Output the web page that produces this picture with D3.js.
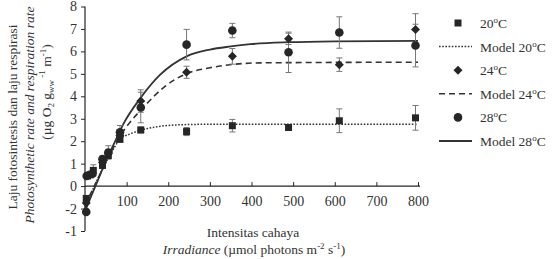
<!DOCTYPE html>
<html><head><meta charset="utf-8">
<script src="https://cdn.jsdelivr.net/npm/d3@7/dist/d3.min.js"></script>
<style>body{margin:0;background:#fff}svg{display:block}text{font-family:"Liberation Serif","Times New Roman",serif;fill:#333}</style>
</head><body><svg id="c" width="554" height="259"></svg>
<script>
// ---- data (y in axis position units) ----
const xTicks = [100,200,300,400,500,600,700,800];
const yTickValues = [8,7,6,5,4,3,2,1,0,-1,-2];
const yTickLabels = ["8","7","6","5","4","3","2","1","0","-2","-1"];

// observed points: [irradiance, rate, error]
const obs20 = [[3,-0.55,0],[6,0.45,0],[12,0.5,0],[20,0.7,0.25],[42,0.92,0.1],[56,1.36,0.1],[84,2.08,0.1],[134,2.5,0.13],[244,2.43,0.18],[354,2.69,0.28],[489,2.61,0.1],[611,2.91,0.53],[794,3.04,0.55]];
const obs24 = [[3,-0.75,0],[8,0.5,0],[14,0.55,0],[42,1.05,0.12],[56,1.45,0.15],[84,2.25,0.2],[134,3.79,0.5],[244,5.07,0.27],[354,5.78,0.35],[489,6.56,0.25],[611,5.41,0.3],[794,6.98,0.7]];
const obs28 = [[3,-1.15,0],[4,0.45,0],[18,0.55,0.1],[42,1.2,0.15],[56,1.5,0.3],[84,2.4,0.3],[134,3.5,0.68],[244,6.3,0.68],[354,6.93,0.32],[489,5.96,0.9],[611,6.84,0.7],[794,6.26,0.95]];

// model curves
const model20 = [[0,-0.95],[25,0.1],[50,1.05],[70,1.7],[84,2.1],[108,2.32],[136,2.5],[172,2.64],[228,2.73],[325,2.76],[800,2.76]];
const model24 = [[0,-0.85],[25,0.1],[50,1.05],[75,1.95],[100,2.65],[140,3.5],[188,4.38],[248,5.04],[300,5.27],[356,5.42],[421,5.49],[800,5.52]];
const model28 = [[0,-1.1],[25,0.0],[50,1.1],[75,2.1],[92,2.76],[134,3.94],[180,4.95],[244,5.78],[300,6.08],[350,6.22],[397,6.32],[490,6.41],[600,6.45],[800,6.47]];

const legendItems = [
  {type:"square", label:"20", model:false},
  {type:"dotted", label:"Model 20", model:true},
  {type:"diamond", label:"24", model:false},
  {type:"dashed", label:"Model 24", model:true},
  {type:"circle", label:"28", model:false},
  {type:"solid", label:"Model 28", model:true}
];

// ---- drawing ----
const svg = d3.select("#c");
const x = d3.scaleLinear().domain([0,800]).range([85,418]);
const y = d3.scaleLinear().domain([-2,8]).range([231,6.5]);
const ink = "#262626";

// axes
const ya = svg.append("g").attr("transform","translate(85,0)")
  .call(d3.axisLeft(y).tickValues(yTickValues).tickFormat((d,i)=>yTickLabels[i]).tickSize(4).tickPadding(4).tickSizeOuter(0));
ya.select(".domain").remove();
ya.selectAll("text").style("font-size","14px").attr("fill","#333");
ya.selectAll("line").attr("stroke",ink);
svg.append("line").attr("x1",85).attr("x2",85).attr("y1",y(8)).attr("y2",y(-2)).attr("stroke",ink).attr("stroke-width",1.2);

const xa = svg.append("g").attr("transform",`translate(0,${y(0)})`)
  .call(d3.axisBottom(x).tickValues(xTicks).tickSize(-4).tickPadding(10).tickSizeOuter(0));
xa.select(".domain").remove();
xa.selectAll("text").style("font-size","14px").attr("fill","#333");
xa.selectAll("line").attr("stroke",ink);
svg.append("line").attr("x1",85).attr("x2",420).attr("y1",y(0)).attr("y2",y(0)).attr("stroke",ink).attr("stroke-width",1.2);

// models
const line = d3.line().x(d=>x(d[0])).y(d=>y(d[1])).curve(d3.curveMonotoneX);
const styles = {dotted:{dash:"1.6,1.6",w:1.5}, dashed:{dash:"6,4",w:1.6}, solid:{dash:null,w:1.8}};
function drawModel(data, st){
  svg.append("path").attr("d", line(data)).attr("fill","none").attr("stroke","#333")
    .attr("stroke-width", styles[st].w).attr("stroke-dasharray", styles[st].dash);
}
drawModel(model20,"dotted");
drawModel(model24,"dashed");
drawModel(model28,"solid");

// error bars
function drawErr(data){
  const g = svg.append("g").attr("stroke","#777").attr("stroke-width",1);
  data.filter(d=>d[2]>0).forEach(d=>{
    const cx = x(d[0]);
    g.append("line").attr("x1",cx).attr("x2",cx).attr("y1",y(d[1]-d[2])).attr("y2",y(d[1]+d[2]));
    [d[1]-d[2], d[1]+d[2]].forEach(v=>g.append("line").attr("x1",cx-3).attr("x2",cx+3).attr("y1",y(v)).attr("y2",y(v)));
  });
}
drawErr(obs20); drawErr(obs24); drawErr(obs28);

function marker(g, type, cx, cy){
  if(type==="square") g.append("rect").attr("x",cx-3.5).attr("y",cy-3.5).attr("width",7).attr("height",7).attr("fill",ink);
  else if(type==="diamond") g.append("path").attr("d",`M${cx},${cy-4.5}L${cx+4.5},${cy}L${cx},${cy+4.5}L${cx-4.5},${cy}Z`).attr("fill",ink);
  else g.append("circle").attr("cx",cx).attr("cy",cy).attr("r",4.3).attr("fill",ink);
}
const mg = svg.append("g");
obs20.forEach(d=>marker(mg,"square",x(d[0]),y(d[1])));
obs24.forEach(d=>marker(mg,"diamond",x(d[0]),y(d[1])));
obs28.forEach(d=>marker(mg,"circle",x(d[0]),y(d[1])));

// legend
const lg = svg.append("g");
legendItems.forEach((it,i)=>{
  const cy = 23 + i*23.6;
  if(it.model){
    lg.append("line").attr("x1",439).attr("x2",472).attr("y1",cy).attr("y2",cy).attr("stroke","#333")
      .attr("stroke-width",styles[it.type].w).attr("stroke-dasharray",styles[it.type].dash);
  } else marker(lg,it.type,458,cy);
  const t = lg.append("text").attr("x",480).attr("y",cy+5).style("font-size","13.5px");
  t.append("tspan").text(it.label);
  t.append("tspan").attr("dy",-5).style("font-size","9px").text("o");
  t.append("tspan").attr("dy",5).text("C");
});

// y title
function vtext(cx, cy, build){
  const t = svg.append("text").attr("transform",`translate(${cx},${cy}) rotate(-90)`).attr("text-anchor","middle").style("font-size","13.5px");
  build(t);
}
vtext(17,117,t=>t.text("Laju fotosintesis dan laju respirasi"));
vtext(34,115,t=>t.style("font-style","italic").text("Photosynthetic rate and respiration rate"));
vtext(51,92,t=>{
  t.append("tspan").text("(µg O");
  t.append("tspan").attr("dy",3).style("font-size","9px").text("2");
  t.append("tspan").attr("dy",-3).text(" g");
  t.append("tspan").attr("dy",3).style("font-size","9px").text("ww");
  t.append("tspan").attr("dy",-9).style("font-size","9px").text(" -1");
  t.append("tspan").attr("dy",6).text(" m");
  t.append("tspan").attr("dy",-5).style("font-size","9px").text("-1");
  t.append("tspan").attr("dy",5).text(")");
});

// x title
svg.append("text").attr("x",253).attr("y",237).attr("text-anchor","middle").style("font-size","13.5px").text("Intensitas cahaya");
const xt = svg.append("text").attr("x",254).attr("y",254).attr("text-anchor","middle").style("font-size","13.5px");
xt.append("tspan").style("font-style","italic").text("Irradiance");
xt.append("tspan").text(" (µmol photons m");
xt.append("tspan").attr("dy",-5).style("font-size","9px").text("-2");
xt.append("tspan").attr("dy",5).text(" s");
xt.append("tspan").attr("dy",-5).style("font-size","9px").text("-1");
xt.append("tspan").attr("dy",5).text(")");
</script></body></html>
